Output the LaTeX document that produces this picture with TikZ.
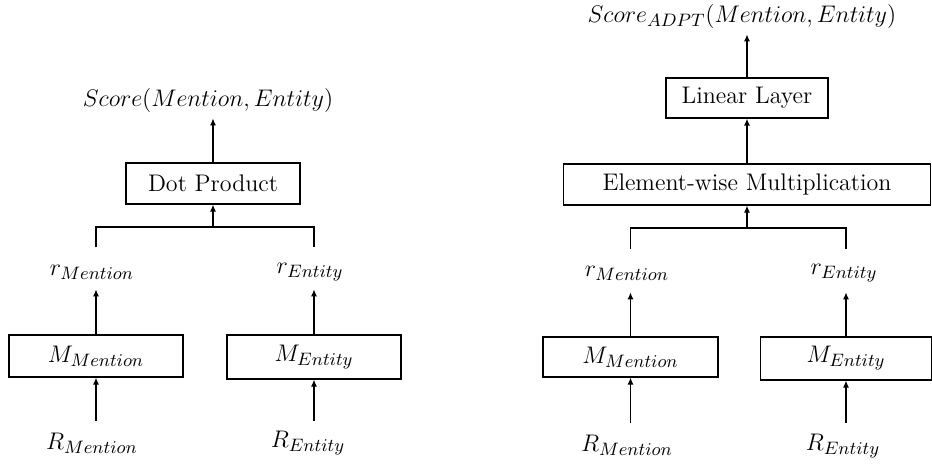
\documentclass[tikz,border=0pt]{standalone}
\usetikzlibrary{arrows.meta,calc}
\DeclareMathSizes{12}{12}{9}{7}
\begin{document}
\begin{tikzpicture}[x=0.5pt,y=-0.5pt,
  every node/.style={font=\fontsize{12}{14}\selectfont},
  box/.style={draw,line width=0.6pt,inner sep=0pt},
  lbl/.style={inner sep=0pt},
  arr/.style={line width=0.6pt,-{Latex[length=3.5pt,width=3pt]}},
  ln/.style={line width=0.6pt}]
\useasboundingbox (0,0) rectangle (932,466);
% ---------- left ----------
\node[lbl] (scoreL) at (208,100) {$Score(Mention,Entity)$};
\node[box,minimum width=87pt,minimum height=20.5pt] (dot) at (213,183.5) {Dot Product};
\node[lbl] (rMl) at (92,272) {$r_{Mention}$};
\node[lbl] (rEl) at (310,272) {$r_{Entity}$};
\node[box,minimum width=87pt,minimum height=21pt] (MMl) at (96,356) {$M_{Mention}$};
\node[box,minimum width=87pt,minimum height=22pt] (MEl) at (314,357) {$M_{Entity}$};
\node[lbl] (RMl) at (92,443) {$R_{Mention}$};
\node[lbl] (REl) at (308,443) {$R_{Entity}$};
\coordinate (jl) at (213,227);
\draw[arr] (dot.north) -- ($(dot.north)+(0,-44)$);
\draw[arr] (jl) -- (dot.south);
\draw[ln] ($(MMl.north)+(0,-87)$) |- (jl) -| ($(MEl.north)+(0,-87)$);
\draw[arr] (MMl.north) -- ($(MMl.north)+(0,-45)$);
\draw[arr] (MEl.north) -- ($(MEl.north)+(0,-45)$);
\draw[arr] ($(MMl.south)+(0,43)$) -- (MMl.south);
\draw[arr] ($(MEl.south)+(0,41)$) -- (MEl.south);
% ---------- right ----------
\node[lbl] (scoreR) at (742,16) {$Score_{ADPT}(Mention,Entity)$};
\node[box,minimum width=81pt,minimum height=20pt] (lin) at (747,98) {Linear Layer};
\node[box,minimum width=183.5pt,minimum height=20.5pt] (elem) at (747,184.5) {Element-wise Multiplication};
\node[lbl] (rMr) at (627,273) {$r_{Mention}$};
\node[lbl] (rEr) at (844,273) {$r_{Entity}$};
\node[box,minimum width=87.5pt,minimum height=20pt] (MMr) at (630.5,357) {$M_{Mention}$};
\node[box,minimum width=85.5pt,minimum height=21.5pt] (MEr) at (846,358.5) {$M_{Entity}$};
\node[lbl] (RMr) at (627,445) {$R_{Mention}$};
\node[lbl] (REr) at (843,446) {$R_{Entity}$};
\coordinate (jr) at (747,228);
\draw[arr] (lin.north) -- ($(lin.north)+(0,-43)$);
\draw[arr] (elem.north) -- (lin.south);
\draw[arr] (jr) -- (elem.south);
\draw[ln] ($(MMr.north)+(0,-87)$) |- (jr) -| ($(MEr.north)+(0,-87)$);
\draw[arr] (MMr.north) -- ($(MMr.north)+(0,-44)$);
\draw[arr] (MEr.north) -- ($(MEr.north)+(0,-44)$);
\draw[arr] ($(MMr.south)+(0,45)$) -- (MMr.south);
\draw[arr] ($(MEr.south)+(0,42)$) -- (MEr.south);
\end{tikzpicture}
\end{document}
